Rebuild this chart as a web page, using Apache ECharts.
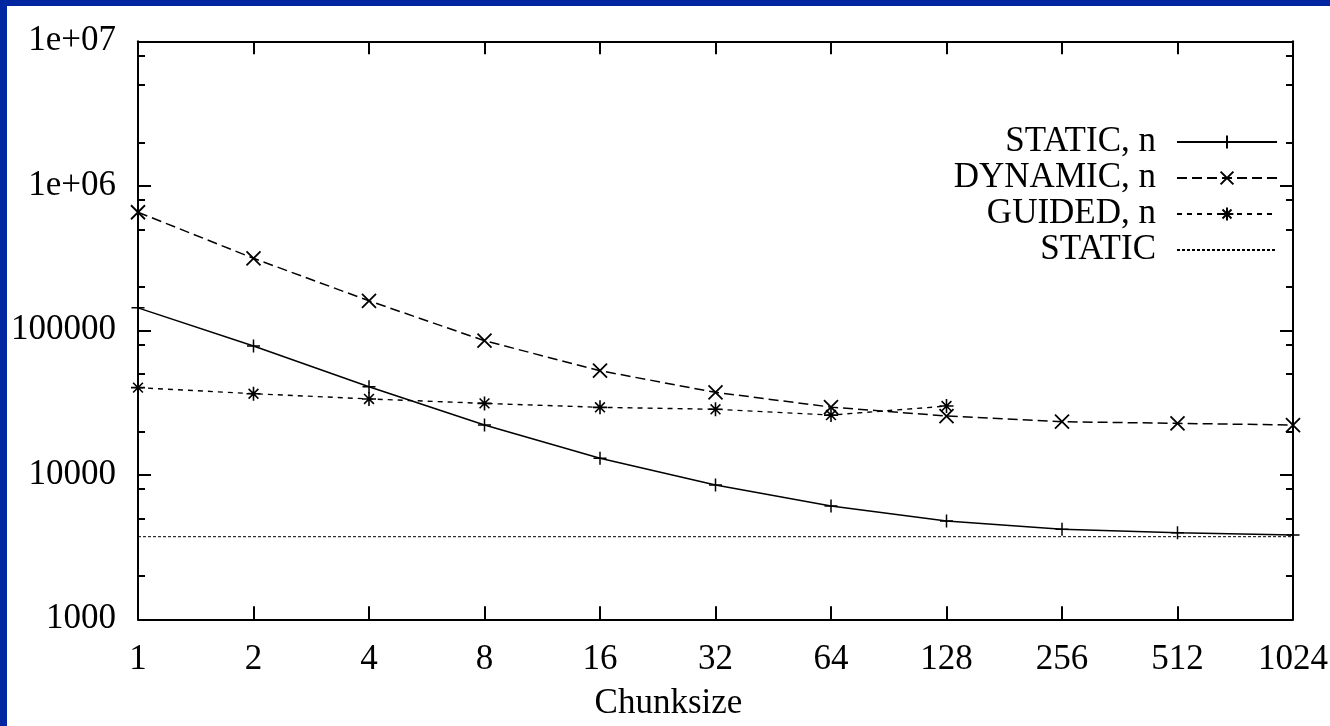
<!DOCTYPE html>
<html>
<head>
<meta charset="utf-8">
<script src="https://cdn.jsdelivr.net/npm/echarts@6/dist/echarts.min.js"></script>
<style>
  html, body { margin: 0; padding: 0; background: #0026a1; width: 1330px; height: 726px; overflow: hidden; }
  #chart { position: absolute; left: 7px; top: 6px; width: 1323px; height: 720px; background: #fff; }
</style>
</head>
<body>
<div id="chart"></div>
<script>
// chunk sizes (x, log2)
const chunks = [1, 2, 4, 8, 16, 32, 64, 128, 256, 512, 1024]
// measured times
const staticN = [143000, 77900, 40700, 22100, 13000, 8500, 6080, 4790, 4200, 3975, 3830]
const dynamicN = [656000, 315000, 160000, 84700, 52500, 37200, 29400, 25500, 23300, 22700, 22100]
const guidedN = [40100, 36400, 33500, 31200, 29300, 28400, 25900, 29900]
const staticPlain = [3730, 3730]
const staticPlainX = [1, 1024]
// ticks
const yTickValues = [1000, 10000, 100000, 1000000, 10000000]
const yTickLabels = ['1000', '10000', '100000', '1e+06', '1e+07']
const yMinorValues = [2000, 5000, 8000, 20000, 50000, 80000, 200000, 500000, 800000, 2000000, 5000000, 8000000]

const font = 'Liberation Serif'
const pairs = (xs, ys) => ys.map((v, i) => [xs[i], v])

const chart = echarts.init(document.getElementById('chart'))

const xBase = {
    type: 'log',
    logBase: 2,
    min: 1,
    max: 1024,
    gridIndex: 0,
    splitLine: { show: false },
    axisLine: { show: true, lineStyle: { color: '#000', width: 2 } },
    axisTick: { show: true, inside: true, length: 13, customValues: chunks, lineStyle: { color: '#000', width: 2 } }
}
const yBase = {
    type: 'log',
    min: 1000,
    max: 10000000,
    splitLine: { show: false },
    axisLine: { show: true, lineStyle: { color: '#000', width: 2 } },
    axisTick: { show: true, inside: true, length: 13, customValues: yTickValues, lineStyle: { color: '#000', width: 2 } }
}
const yMinor = {
    type: 'log',
    min: 1000,
    max: 10000000,
    splitLine: { show: false },
    axisLine: { show: false },
    axisLabel: { show: false },
    axisTick: { show: true, inside: true, length: 7, customValues: yMinorValues, lineStyle: { color: '#000', width: 2 } }
}

const option = {
    animation: false,
    grid: { left: 131, top: 35.3, right: 37, bottom: 106.7, outerBoundsMode: 'none' },
    title: {
        text: 'Chunksize',
        left: 'center',
        top: 675,
        textStyle: { fontFamily: font, fontSize: 35, fontWeight: 'normal', color: '#000' }
    },
    legend: {
        orient: 'vertical',
        align: 'right',
        right: 52,
        top: 118,
        padding: 0,
        itemGap: 0,
        itemWidth: 100,
        itemHeight: 16,
        textStyle: { fontFamily: font, fontSize: 35, color: '#000', lineHeight: 36, padding: [0, 16, 0, 0] },
        data: ['STATIC, n', 'DYNAMIC, n', 'GUIDED, n', { name: 'STATIC', itemStyle: { opacity: 0 } }]
    },
    xAxis: [
        Object.assign({}, xBase, {
            position: 'bottom',
            axisLabel: {
                customValues: chunks,
                margin: 23,
                fontFamily: font,
                fontSize: 35,
                color: '#000',
                formatter: v => String(v)
            }
        }),
        Object.assign({}, xBase, { position: 'top', axisLabel: { show: false } })
    ],
    yAxis: [
        Object.assign({}, yBase, {
            position: 'left',
            axisLabel: {
                customValues: yTickValues,
                margin: 22,
                padding: [6, 0, 0, 0],
                fontFamily: font,
                fontSize: 35,
                color: '#000',
                formatter: v => yTickLabels[yTickValues.indexOf(v)] ?? String(v)
            }
        }),
        Object.assign({}, yBase, { position: 'right', axisLabel: { show: false } }),
        Object.assign({}, yMinor, { position: 'left' }),
        Object.assign({}, yMinor, { position: 'right' })
    ],
    series: [
        {
            name: 'STATIC, n',
            type: 'line',
            data: pairs(chunks, staticN),
            symbol: 'path://M0,6L12,6M6,0L6,12',
            symbolSize: 13,
            itemStyle: { color: '#000', borderColor: '#000', borderWidth: 1.5 },
            lineStyle: { color: '#000', width: 1.5, type: 'solid' }
        },
        {
            name: 'DYNAMIC, n',
            type: 'line',
            data: pairs(chunks, dynamicN),
            symbol: 'path://M0,0L12,12M12,0L0,12',
            symbolSize: 14,
            itemStyle: { color: '#000', borderColor: '#000', borderWidth: 1.8 },
            lineStyle: { color: '#000', width: 1.5, type: [10, 5] }
        },
        {
            name: 'GUIDED, n',
            type: 'line',
            data: pairs(chunks, guidedN),
            symbol: 'path://M0,6L12,6M6,0L6,12M1.8,1.8L10.2,10.2M10.2,1.8L1.8,10.2',
            symbolSize: 14,
            itemStyle: { color: '#000', borderColor: '#000', borderWidth: 1.6 },
            lineStyle: { color: '#000', width: 1.4, type: [5, 5] }
        },
        {
            name: 'STATIC',
            type: 'line',
            data: pairs(staticPlainX, staticPlain),
            symbol: 'none',
            itemStyle: { color: '#000' },
            lineStyle: { color: '#000', width: 1, type: [3, 2] }
        }
    ]
}
chart.setOption(option)
</script>
</body>
</html>
